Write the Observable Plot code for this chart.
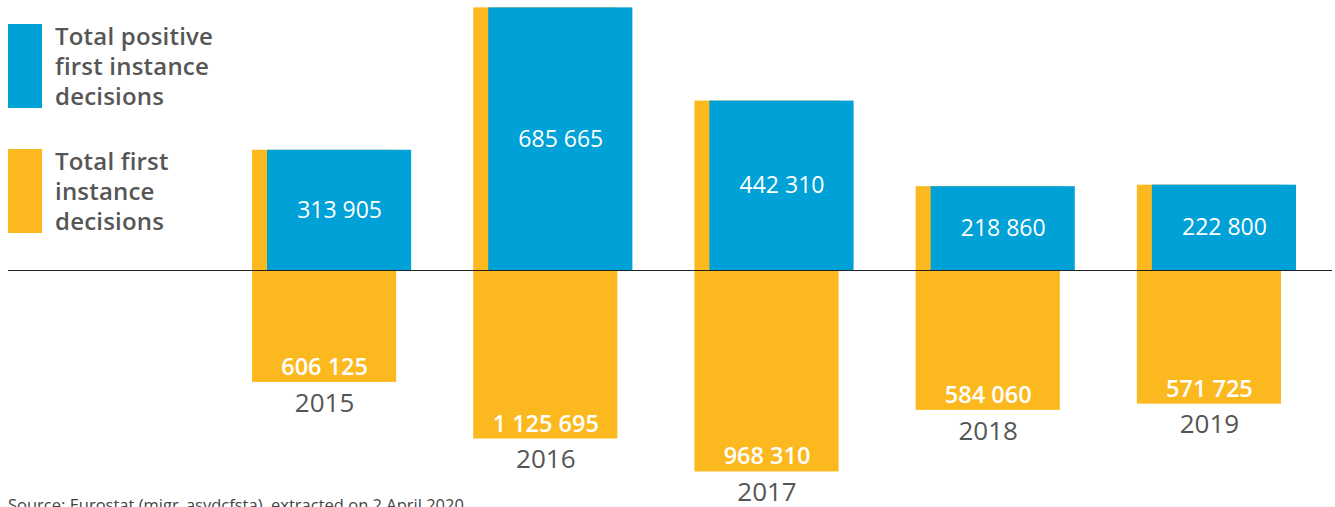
<!DOCTYPE html>
<html>
<head>
<meta charset="utf-8">
<script src="https://cdn.jsdelivr.net/npm/d3@7"></script>
<script src="https://cdn.jsdelivr.net/npm/@observablehq/plot@0.6"></script>
<style>
  html, body { margin: 0; padding: 0; background: #fff; }
  #wrap { position: relative; width: 1335px; height: 507px; overflow: hidden; font-family: "Open Sans", "Noto Sans", sans-serif; }
  .legend { position: absolute; left: 8px; display: flex; align-items: flex-start; }
  .sw { width: 34px; height: 84px; margin-right: 13px; }
  .lt { font-size: 24px; line-height: 30px; font-weight: 600; color: #565656; margin-top: -3px; letter-spacing: 0.2px; }
  #source { position: absolute; left: 8px; top: 493px; font-size: 16.5px; color: #444; white-space: nowrap; }
</style>
</head>
<body>
<div id="wrap">
  <div id="chart"></div>
  <div class="legend" style="top:24px"><div class="sw" id="sw1"></div><div class="lt" id="lt1"></div></div>
  <div class="legend" style="top:149px"><div class="sw" id="sw2"></div><div class="lt" id="lt2"></div></div>
  <div id="source"></div>
</div>
<script>
const years = ["2015", "2016", "2017", "2018", "2019"];
const positive = [313905, 685665, 442310, 218860, 222800];
const total = [606125, 1125695, 968310, 584060, 571725];
const seriesNames = ["Total positive first instance decisions", "Total first instance decisions"];
const legendLines = [["Total positive", "first instance", "decisions"], ["Total first", "instance", "decisions"]];
const colors = ["#00a1d7", "#fbb91f"];
const sourceText = "Source: Eurostat (migr_asydcfsta), extracted on 2 April 2020.";

const fmt = d3.formatLocale({decimal: ".", thousands: " ", grouping: [3], currency: ["", ""]}).format(",d");

const data = years.map((y, i) => ({year: y, positive: positive[i], total: total[i], bottom: positive[i] - total[i]}));

const k = 0.000383; // px per unit
const y0 = 270;
const chart = Plot.plot({
  width: 1335,
  height: 507,
  marginLeft: 8,
  marginRight: 3,
  marginTop: 0,
  marginBottom: 0,
  style: {fontFamily: "'Open Sans', 'Noto Sans', sans-serif", background: "#fff"},
  x: {domain: years, range: [252, 1281], paddingInner: 77 / 221, paddingOuter: 0, round: false, axis: null},
  y: {domain: [-700000, 700000], range: [y0 + 700000 * k, y0 - 700000 * k], axis: null},
  marks: [
    Plot.barY(data, {x: "year", y1: "bottom", y2: "positive", fill: colors[1]}),
    Plot.barY(data, {x: "year", y1: 0, y2: "positive", fill: colors[0], dx: 15}),
    Plot.ruleY([0], {stroke: "#222", strokeWidth: 1.2}),
    Plot.text(data, {x: "year", y: d => d.positive / 2, text: d => fmt(d.positive), dx: 15, fill: "#fff", fontSize: 23}),
    Plot.text(data, {x: "year", y: "bottom", text: d => fmt(d.total), dy: -15, fill: "#fff", fontSize: 23.5, fontWeight: 600}),
    Plot.text(data, {x: "year", y: "bottom", text: "year", dy: 21, fill: "#555", fontSize: 26})
  ]
});
document.getElementById("chart").appendChild(chart);
document.getElementById("sw1").style.background = colors[0];
document.getElementById("sw2").style.background = colors[1];
document.getElementById("lt1").innerHTML = legendLines[0].join("<br>");
document.getElementById("lt2").innerHTML = legendLines[1].join("<br>");
document.getElementById("source").textContent = sourceText;
</script>
</body>
</html>
